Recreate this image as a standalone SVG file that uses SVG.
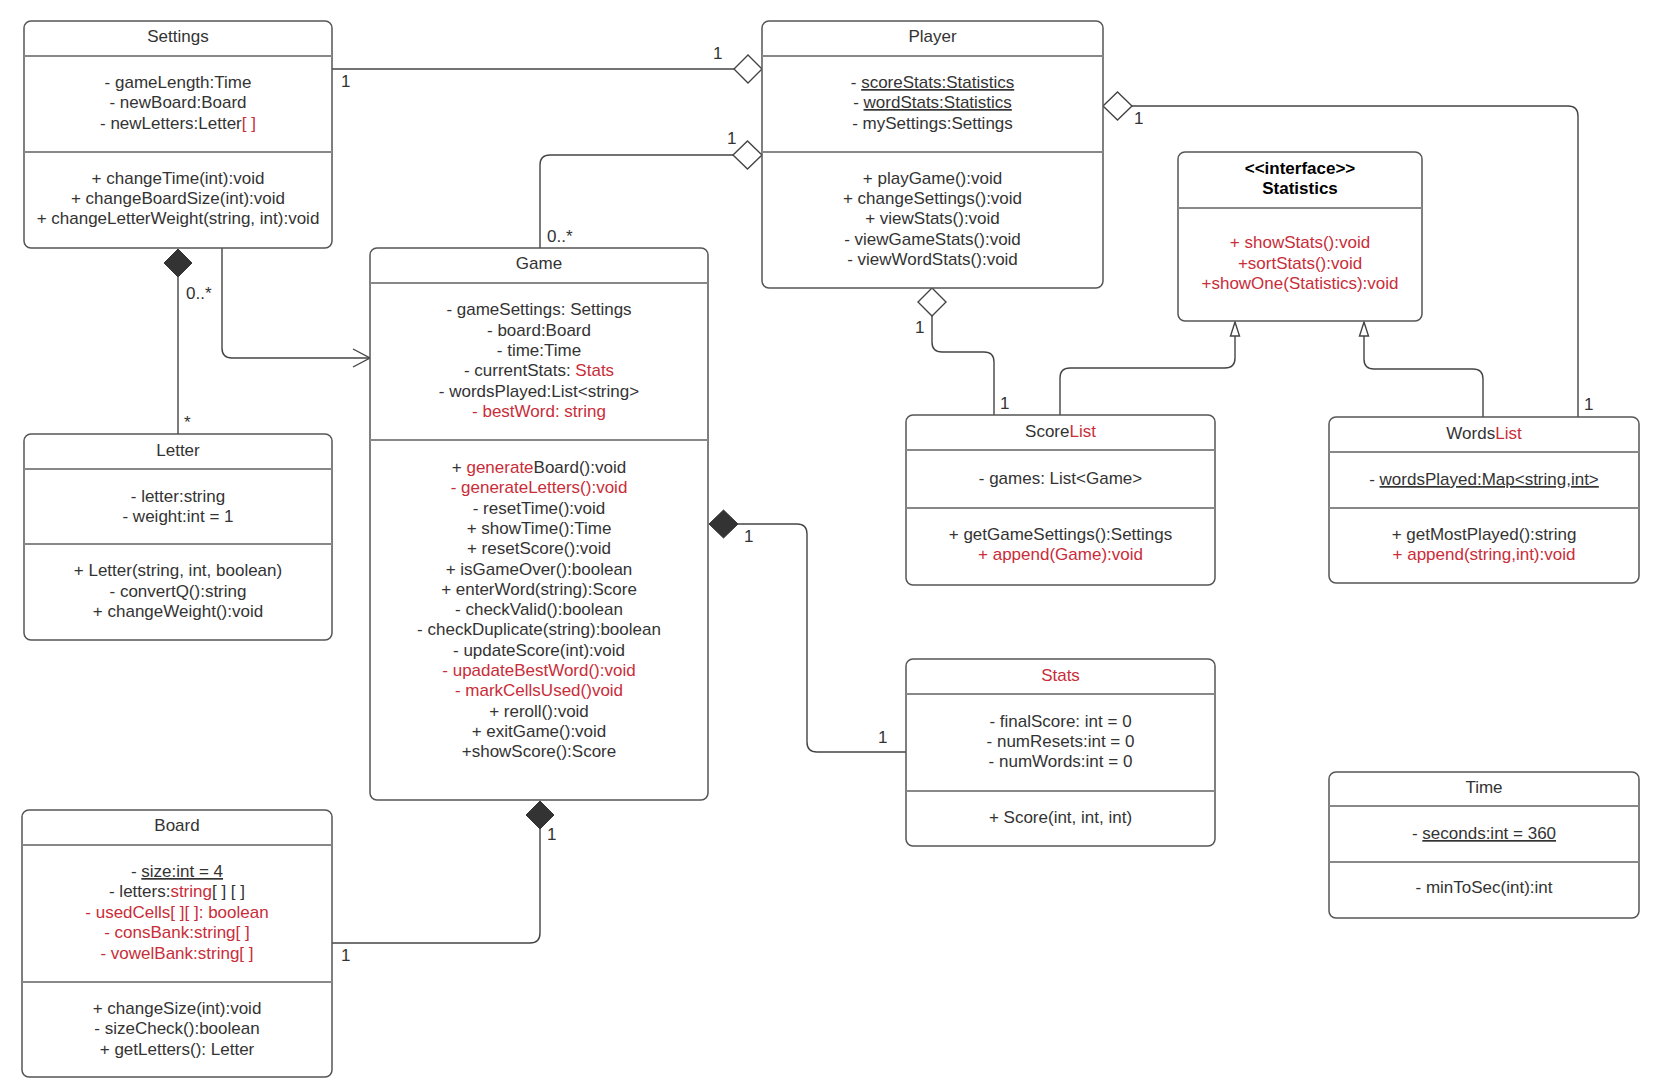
<svg xmlns="http://www.w3.org/2000/svg" width="1663" height="1090" viewBox="0 0 1663 1090">
<style>
text{font-family:"Liberation Sans",Arial,sans-serif;font-size:17px;fill:#333;text-anchor:middle}
.box{fill:#fff;stroke:#555;stroke-width:1.5}
.dv{stroke:#888;stroke-width:2}
.r{fill:#c92d39}
.u{text-decoration:underline}
.lbl{text-anchor:start}
.ln{fill:none;stroke:#444;stroke-width:1.4}
.hd{fill:#fff;stroke:#444;stroke-width:1.4}
.fd{fill:#333;stroke:#333;stroke-width:1}
.b{font-weight:bold;fill:#000}
</style>
<rect width="1663" height="1090" fill="#fff"/>
<g id="connectors">
<path class="ln" d="M332,69 H734"/>
<path class="hd" d="M734,69 L748,55 L762,69 L748,83 Z"/>
<text class="lbl" x="341" y="87">1</text>
<text class="lbl" x="713" y="59">1</text>

<path class="ln" d="M540,248 V165 Q540,155 550,155 H733"/>
<path class="hd" d="M733,155 L747.5,141 L762,155 L747.5,169 Z"/>
<text class="lbl" x="547" y="242">0..*</text>
<text class="lbl" x="727" y="144">1</text>

<path class="ln" d="M1132,106 H1568 Q1578,106 1578,116 V417"/>
<path class="hd" d="M1103,106 L1117.5,92 L1132,106 L1117.5,120 Z"/>
<text class="lbl" x="1134" y="124">1</text>
<text class="lbl" x="1584" y="410">1</text>

<path class="ln" d="M932,316 V342 Q932,352 942,352 H984 Q994,352 994,362 V415"/>
<path class="hd" d="M932,288 L946,302 L932,316 L918,302 Z"/>
<text class="lbl" x="915" y="333">1</text>
<text class="lbl" x="1000" y="409">1</text>

<path class="ln" d="M1060,415 V378 Q1060,368 1070,368 H1225 Q1235,368 1235,358 V336"/>
<path class="hd" d="M1235,322 L1239.5,336 L1230.5,336 Z"/>
<path class="ln" d="M1483,417 V379 Q1483,369 1473,369 H1374 Q1364,369 1364,359 V336"/>
<path class="hd" d="M1364,322 L1368.5,336 L1359.5,336 Z"/>

<path class="ln" d="M222,248 V348 Q222,358 232,358 H370"/>
<path class="ln" d="M353,349 L370,358 L353,367"/>

<path class="ln" d="M178,277 V434"/>
<path class="fd" d="M178,249 L192,263 L178,277 L164,263 Z"/>
<text class="lbl" x="186" y="299">0..*</text>
<text class="lbl" x="184" y="428">*</text>

<path class="ln" d="M738,524 H797 Q807,524 807,534 V742 Q807,752 817,752 H906"/>
<path class="fd" d="M709,524 L723.5,510 L738,524 L723.5,538 Z"/>
<text class="lbl" x="744" y="542">1</text>
<text class="lbl" x="878" y="743">1</text>

<path class="ln" d="M540,829 V933 Q540,943 530,943 H332"/>
<path class="fd" d="M540,801 L554,815 L540,829 L526,815 Z"/>
<text class="lbl" x="547" y="840">1</text>
<text class="lbl" x="341" y="961">1</text>
</g>

<g id="settings">
<rect class="box" x="24" y="21" width="308" height="227" rx="7"/>
<line class="dv" x1="24" y1="56" x2="332" y2="56"/>
<line class="dv" x1="24" y1="152" x2="332" y2="152"/>
<text x="178" y="42">Settings</text>
<text x="178" y="88">- gameLength:Time</text>
<text x="178" y="108">- newBoard:Board</text>
<text x="178" y="129">- newLetters:Letter<tspan class="r">[ ]</tspan></text>
<text x="178" y="184">+ changeTime(int):void</text>
<text x="178" y="204">+ changeBoardSize(int):void</text>
<text x="178" y="224">+ changeLetterWeight(string, int):void</text>
</g>

<g id="player">
<rect class="box" x="762" y="21" width="341" height="267" rx="7"/>
<line class="dv" x1="762" y1="56" x2="1103" y2="56"/>
<line class="dv" x1="762" y1="152" x2="1103" y2="152"/>
<text x="932.5" y="42">Player</text>
<text x="932.5" y="88">- <tspan class="u">scoreStats:Statistics</tspan></text>
<text x="932.5" y="108">- <tspan class="u">wordStats:Statistics</tspan></text>
<text x="932.5" y="129">- mySettings:Settings</text>
<text x="932.5" y="184">+ playGame():void</text>
<text x="932.5" y="204">+ changeSettings():void</text>
<text x="932.5" y="224">+ viewStats():void</text>
<text x="932.5" y="245">- viewGameStats():void</text>
<text x="932.5" y="265">- viewWordStats():void</text>
</g>

<g id="statistics">
<rect class="box" x="1178" y="152" width="244" height="169" rx="7"/>
<line class="dv" x1="1178" y1="208" x2="1422" y2="208"/>
<text class="b" x="1300" y="174">&lt;&lt;interface&gt;&gt;</text>
<text class="b" x="1300" y="194">Statistics</text>
<text class="r" x="1300" y="248">+ showStats():void</text>
<text class="r" x="1300" y="269">+sortStats():void</text>
<text class="r" x="1300" y="289">+showOne(Statistics):void</text>
</g>

<g id="game">
<rect class="box" x="370" y="248" width="338" height="552" rx="7"/>
<line class="dv" x1="370" y1="283" x2="708" y2="283"/>
<line class="dv" x1="370" y1="440" x2="708" y2="440"/>
<text x="539" y="269">Game</text>
<text x="539" y="315">- gameSettings: Settings</text>
<text x="539" y="336">- board:Board</text>
<text x="539" y="356">- time:Time</text>
<text x="539" y="376">- currentStats: <tspan class="r">Stats</tspan></text>
<text x="539" y="397">- wordsPlayed:List&lt;string&gt;</text>
<text class="r" x="539" y="417">- bestWord: string</text>
<text x="539" y="473">+ <tspan class="r">generate</tspan>Board():void</text>
<text class="r" x="539" y="493">- generateLetters():void</text>
<text x="539" y="514">- resetTime():void</text>
<text x="539" y="534">+ showTime():Time</text>
<text x="539" y="554">+ resetScore():void</text>
<text x="539" y="575">+ isGameOver():boolean</text>
<text x="539" y="595">+ enterWord(string):Score</text>
<text x="539" y="615">- checkValid():boolean</text>
<text x="539" y="635">- checkDuplicate(string):boolean</text>
<text x="539" y="656">- updateScore(int):void</text>
<text class="r" x="539" y="676">- upadateBestWord():void</text>
<text class="r" x="539" y="696">- markCellsUsed()void</text>
<text x="539" y="717">+ reroll():void</text>
<text x="539" y="737">+ exitGame():void</text>
<text x="539" y="757">+showScore():Score</text>
</g>

<g id="letter">
<rect class="box" x="24" y="434" width="308" height="206" rx="7"/>
<line class="dv" x1="24" y1="469" x2="332" y2="469"/>
<line class="dv" x1="24" y1="544" x2="332" y2="544"/>
<text x="178" y="456">Letter</text>
<text x="178" y="502">- letter:string</text>
<text x="178" y="522">- weight:int = 1</text>
<text x="178" y="576">+ Letter(string, int, boolean)</text>
<text x="178" y="597">- convertQ():string</text>
<text x="178" y="617">+ changeWeight():void</text>
</g>

<g id="board">
<rect class="box" x="22" y="810" width="310" height="267" rx="7"/>
<line class="dv" x1="22" y1="845" x2="332" y2="845"/>
<line class="dv" x1="22" y1="982" x2="332" y2="982"/>
<text x="177" y="831">Board</text>
<text x="177" y="877">- <tspan class="u">size:int = 4</tspan></text>
<text x="177" y="897">- letters:<tspan class="r">string</tspan>[ ] [ ]</text>
<text class="r" x="177" y="918">- usedCells[ ][ ]: boolean</text>
<text class="r" x="177" y="938">- consBank:string[ ]</text>
<text class="r" x="177" y="959">- vowelBank:string[ ]</text>
<text x="177" y="1014">+ changeSize(int):void</text>
<text x="177" y="1034">- sizeCheck():boolean</text>
<text x="177" y="1055">+ getLetters(): Letter</text>
</g>

<g id="scorelist">
<rect class="box" x="906" y="415" width="309" height="170" rx="7"/>
<line class="dv" x1="906" y1="450" x2="1215" y2="450"/>
<line class="dv" x1="906" y1="508" x2="1215" y2="508"/>
<text x="1060.5" y="437">Score<tspan class="r">List</tspan></text>
<text x="1060.5" y="484">- games: List&lt;Game&gt;</text>
<text x="1060.5" y="540">+ getGameSettings():Settings</text>
<text class="r" x="1060.5" y="560">+ append(Game):void</text>
</g>

<g id="wordslist">
<rect class="box" x="1329" y="417" width="310" height="166" rx="7"/>
<line class="dv" x1="1329" y1="452" x2="1639" y2="452"/>
<line class="dv" x1="1329" y1="508" x2="1639" y2="508"/>
<text x="1484" y="439">Words<tspan class="r">List</tspan></text>
<text x="1484" y="485">- <tspan class="u">wordsPlayed:Map&lt;string,int&gt;</tspan></text>
<text x="1484" y="540">+ getMostPlayed():string</text>
<text class="r" x="1484" y="560">+ append(string,int):void</text>
</g>

<g id="stats">
<rect class="box" x="906" y="659" width="309" height="187" rx="7"/>
<line class="dv" x1="906" y1="694" x2="1215" y2="694"/>
<line class="dv" x1="906" y1="791" x2="1215" y2="791"/>
<text class="r" x="1060.5" y="681">Stats</text>
<text x="1060.5" y="727">- finalScore: int = 0</text>
<text x="1060.5" y="747">- numResets:int = 0</text>
<text x="1060.5" y="767">- numWords:int = 0</text>
<text x="1060.5" y="823">+ Score(int, int, int)</text>
</g>

<g id="time">
<rect class="box" x="1329" y="772" width="310" height="146" rx="7"/>
<line class="dv" x1="1329" y1="806" x2="1639" y2="806"/>
<line class="dv" x1="1329" y1="862" x2="1639" y2="862"/>
<text x="1484" y="793">Time</text>
<text x="1484" y="839">- <tspan class="u">seconds:int = 360</tspan></text>
<text x="1484" y="893">- minToSec(int):int</text>
</g>
</svg>
